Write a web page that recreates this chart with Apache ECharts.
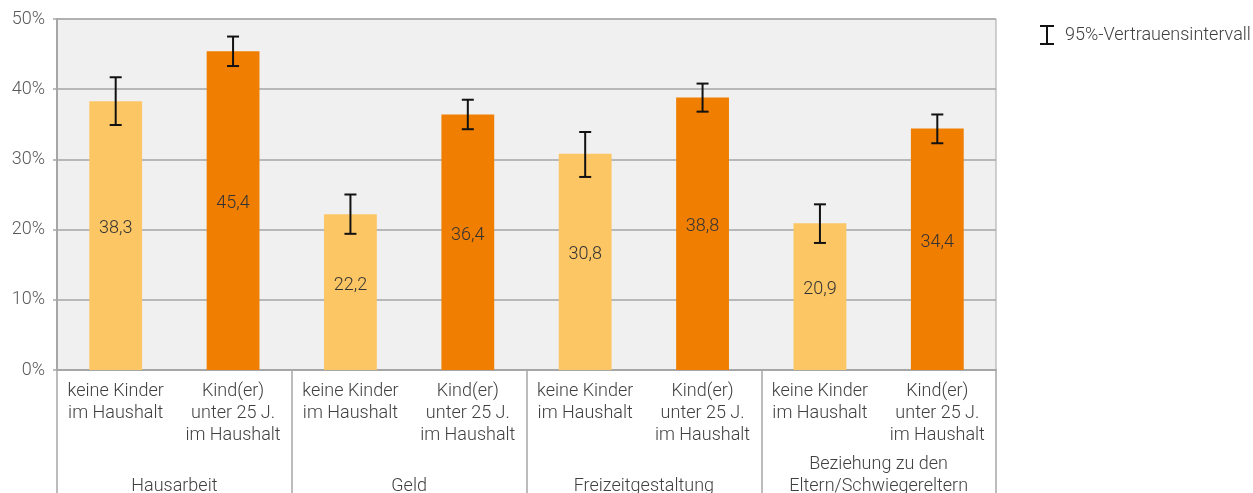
<!DOCTYPE html>
<html>
<head>
<meta charset="utf-8">
<script src="https://cdn.jsdelivr.net/npm/echarts@6/dist/echarts.min.js"></script>
<style>
    html, body { margin: 0; padding: 0; background: #fff; }
    #chart { width: 1253px; height: 493px; }
</style>
</head>
<body>
<div id="chart"></div>
<script>
// values in percent
let sub_labels = [
    'keine Kinder\nim Haushalt', 'Kind(er)\nunter 25 J.\nim Haushalt',
    'keine Kinder\nim Haushalt', 'Kind(er)\nunter 25 J.\nim Haushalt',
    'keine Kinder\nim Haushalt', 'Kind(er)\nunter 25 J.\nim Haushalt',
    'keine Kinder\nim Haushalt', 'Kind(er)\nunter 25 J.\nim Haushalt'
];
let group_labels = ['Hausarbeit', 'Geld', 'Freizeitgestaltung', 'Beziehung zu den\nEltern/Schwiegereltern'];
let share_values = [38.3, 45.4, 22.2, 36.4, 30.8, 38.8, 20.9, 34.4];
let ci_low = [34.9, 43.3, 19.4, 34.3, 27.5, 36.8, 18.1, 32.3];
let ci_high = [41.7, 47.5, 25.0, 38.5, 33.9, 40.8, 23.6, 36.4];
let ci_name = '95%-Vertrauensintervall';

let light_color = '#fcc664';
let dark_color = '#f07e00';
let font_size = 18;

let chartDom = document.getElementById('chart');
let myChart = echarts.init(chartDom);

let bar_data = share_values.map((v, i) => ({
    value: v,
    itemStyle: { color: i % 2 === 0 ? light_color : dark_color }
}));
let ci_data = ci_low.map((lo, i) => [i, lo, ci_high[i]]);

function render_ci(params, api) {
    let top = api.coord([api.value(0), api.value(2)]);
    let bottom = api.coord([api.value(0), api.value(1)]);
    let half = 6;
    let st = { stroke: '#111', lineWidth: 2 };
    return {
        type: 'group',
        children: [
            { type: 'line', shape: { x1: top[0], y1: top[1], x2: bottom[0], y2: bottom[1] }, style: st },
            { type: 'line', shape: { x1: top[0] - half, y1: top[1], x2: top[0] + half, y2: top[1] }, style: st },
            { type: 'line', shape: { x1: bottom[0] - half, y1: bottom[1], x2: bottom[0] + half, y2: bottom[1] }, style: st }
        ]
    };
}

let option = {
    animation: false,
    textStyle: { fontFamily: 'Roboto', fontWeight: 300 },
    grid: {
        left: 57, right: 257, top: 19, bottom: 123,
        outerBoundsMode: 'none',
        containLabel: false,
        show: true, backgroundColor: '#f0f0f0', borderColor: '#a6a6a6', borderWidth: 1
    },
    legend: {
        left: 1035, top: 20,
        itemWidth: 14, itemHeight: 20,
        textStyle: { fontSize: font_size, fontWeight: 300, color: '#404040', padding: [0, 0, 0, 6], fontFamily: 'Roboto' },
        data: [{ name: ci_name, icon: 'path://M0,0H14V2H8V18H14V20H0V18H6V2H0Z' }]
    },
    xAxis: [
        {
            type: 'category',
            data: sub_labels,
            axisLine: { lineStyle: { color: '#a6a6a6', width: 2 } },
            axisTick: { show: false },
            axisLabel: {
                interval: 0, margin: 10, fontSize: font_size, fontWeight: 300, lineHeight: 22,
                color: '#404040', fontFamily: 'Roboto'
            }
        },
        {
            type: 'category',
            position: 'bottom',
            data: group_labels,
            axisLine: { show: false },
            axisTick: { show: true, length: 123, lineStyle: { color: '#a6a6a6', width: 1.5 } },
            axisLabel: {
                interval: 0, margin: 127, verticalAlign: 'bottom', fontSize: font_size, fontWeight: 300,
                lineHeight: 22, color: '#404040', fontFamily: 'Roboto'
            }
        }
    ],
    yAxis: {
        type: 'value',
        min: 0, max: 50, interval: 10,
        axisLine: { show: true, lineStyle: { color: '#a6a6a6', width: 2 } },
        axisTick: { show: true, length: 4, lineStyle: { color: '#a6a6a6', width: 1.5 } },
        splitLine: { lineStyle: { color: '#a6a6a6', width: 1.5 } },
        axisLabel: {
            formatter: '{value}%', margin: 12, fontSize: font_size, fontWeight: 300,
            color: '#595959', fontFamily: 'Roboto'
        }
    },
    series: [
        {
            type: 'bar',
            xAxisIndex: 0,
            barWidth: '45%',
            data: bar_data,
            label: {
                show: true,
                position: 'inside',
                offset: [0, -7],
                fontSize: font_size,
                fontWeight: 300,
                color: '#333',
                fontFamily: 'Roboto',
                formatter: p => String(p.value.toFixed(1)).replace('.', ',')
            }
        },
        {
            type: 'custom',
            name: ci_name,
            xAxisIndex: 0,
            itemStyle: { color: '#111' },
            renderItem: render_ci,
            encode: { x: 0, y: [1, 2] },
            data: ci_data,
            z: 5
        }
    ]
};

myChart.setOption(option);
</script>
</body>
</html>
